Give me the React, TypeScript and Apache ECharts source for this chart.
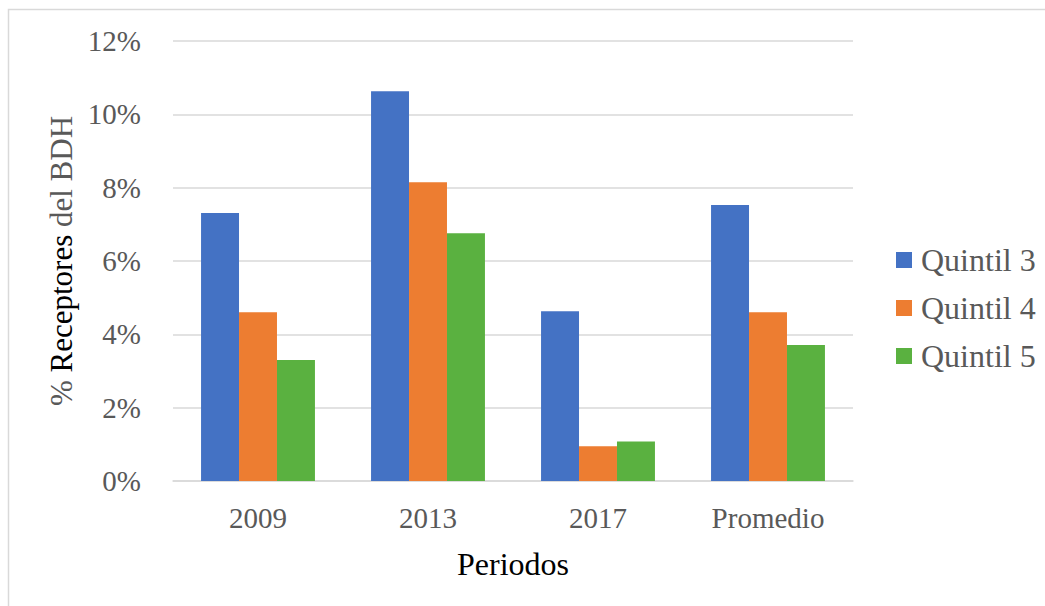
import React, { useEffect, useRef } from "react";
import * as echarts from "echarts";

const categories = ["2009", "2013", "2017", "Promedio"];
const quintil3 = [7.31, 10.63, 4.63, 7.53];
const quintil4 = [4.6, 8.15, 0.95, 4.6];
const quintil5 = [3.3, 6.76, 1.08, 3.71];
const seriesNames = ["Quintil 3", "Quintil 4", "Quintil 5"];
const colors = ["#4472C4", "#ED7D31", "#5AB140"];

const FONT = "'Liberation Serif', 'Times New Roman', serif";

export default function App() {
  const ref = useRef<HTMLDivElement>(null);
  useEffect(() => {
    if (!ref.current) return;
    const chart = echarts.init(ref.current, undefined, { renderer: "svg" });
    const values = [quintil3, quintil4, quintil5];
    chart.setOption({
      animation: false,
      backgroundColor: "#ffffff",
      textStyle: { fontFamily: FONT },
      graphic: [
        {
          type: "rect",
          shape: { x: 8.5, y: 9.5, width: 1200, height: 800 },
          style: { fill: "none", stroke: "#d9d9d9", lineWidth: 1.5 },
          silent: true,
        },
      ],
      grid: { left: 173, right: 192, top: 41, bottom: 125 },
      legend: {
        orient: "vertical",
        left: 891,
        top: 239,
        itemWidth: 16,
        itemHeight: 16,
        itemGap: 16,
        icon: "rect",
        data: seriesNames,
        textStyle: { fontFamily: FONT, fontSize: 32, color: "#595959", padding: [0, 0, 0, 4] },
      },
      xAxis: {
        type: "category",
        data: categories,
        name: "Periodos",
        nameLocation: "middle",
        nameGap: 67,
        nameTextStyle: { fontFamily: FONT, fontSize: 32, color: "#000000" },
        axisLine: { lineStyle: { color: "#d9d9d9", width: 1.5 } },
        axisTick: { show: false },
        axisLabel: { fontFamily: FONT, fontSize: 29, color: "#595959", margin: 22 },
      },
      yAxis: {
        type: "value",
        min: 0,
        max: 12,
        interval: 2,
        name: "{g|%} {k|Receptores} {g|del BDH}",
        nameLocation: "middle",
        nameGap: 95,
        nameRotate: 90,
        nameTextStyle: {
          fontFamily: FONT,
          fontSize: 31,
          color: "#000000",
          rich: {
            g: { fontFamily: FONT, fontSize: 31, color: "#595959" },
            k: { fontFamily: FONT, fontSize: 31, color: "#000000" },
          },
        },
        axisLine: { show: false },
        axisTick: { show: false },
        splitLine: { lineStyle: { color: "#d9d9d9", width: 1.5 } },
        axisLabel: { fontFamily: FONT, fontSize: 29, color: "#595959", margin: 32, formatter: "{value}%" },
      },
      series: seriesNames.map((name, i) => ({
        name,
        type: "bar",
        data: values[i],
        barGap: "0%",
        barCategoryGap: "33%",
        itemStyle: { color: colors[i] },
      })),
    });
    return () => chart.dispose();
  }, []);
  return (
    <div
      ref={ref}
      style={{ position: "fixed", left: 0, top: 0, width: 1045, height: 606 }}
    />
  );
}
